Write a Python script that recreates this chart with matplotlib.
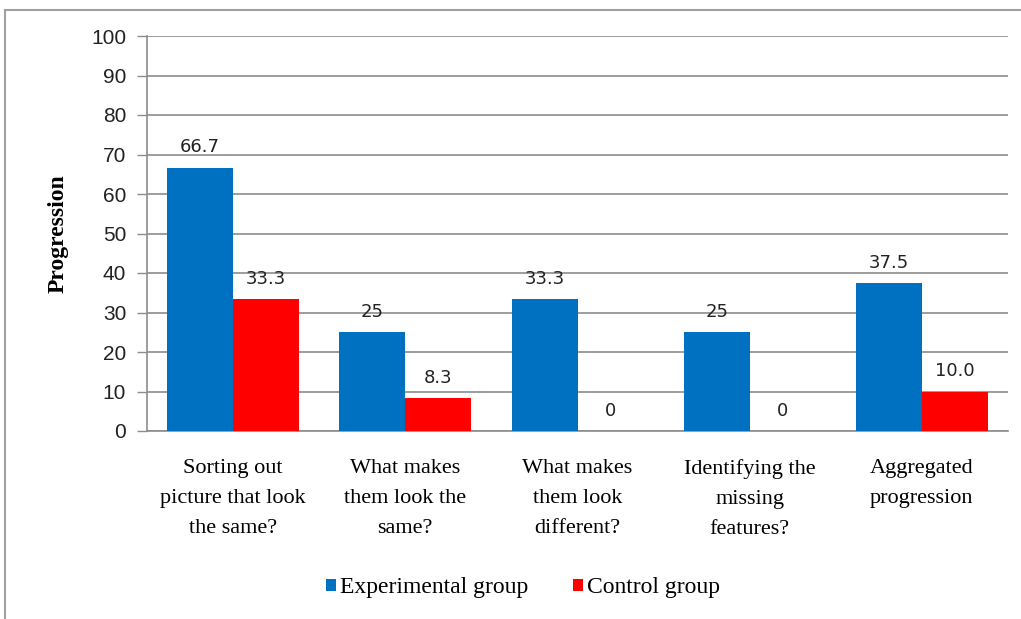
import matplotlib
matplotlib.use("Agg")
import matplotlib.pyplot as plt
import numpy as np
from matplotlib.lines import Line2D

categories = ["Sorting out\npicture that look\nthe same?",
              "What makes\nthem look the\nsame?",
              "What makes\nthem look\ndifferent?",
              "Identifying the\nmissing\nfeatures?",
              "Aggregated\nprogression"]
experimental = [66.7, 25, 33.3, 25, 37.5]
control = [33.3, 8.3, 0, 0, 10.0]
exp_labels = ["66.7", "25", "33.3", "25", "37.5"]
ctl_labels = ["33.3", "8.3", "0", "0", "10.0"]
series_names = ["Experimental group", "Control group"]
yticks = [0, 10, 20, 30, 40, 50, 60, 70, 80, 90, 100]

BLUE = "#0070C0"
RED = "#FF0000"
GRID = "#8C8C8C"

fig = plt.figure(figsize=(10.21, 6.19), dpi=100)
ax = fig.add_axes([147/1021, 1-431/619, (1008-147)/1021, (431-36)/619])

x = np.arange(len(categories))
w = 0.383
b1 = ax.bar(x - w/2, experimental, w, color=BLUE, label=series_names[0], zorder=3)
b2 = ax.bar(x + w/2, control, w, color=RED, label=series_names[1], zorder=3)

numfont = dict(family="DejaVu Sans", fontsize=13, color="#222222")
for rect, lab in zip(b1, exp_labels):
    ax.annotate(lab, (rect.get_x() + rect.get_width()/2, rect.get_height()),
                xytext=(0, 8), textcoords="offset points", ha="center", va="bottom", **numfont)
for rect, lab in zip(b2, ctl_labels):
    ax.annotate(lab, (rect.get_x() + rect.get_width()/2, rect.get_height()),
                xytext=(0, 8), textcoords="offset points", ha="center", va="bottom", **numfont)

ax.set_xlim(-0.5, len(categories) - 0.5)
ax.set_ylim(0, 100)
ax.set_yticks(yticks)
ax.set_yticklabels([str(t) for t in yticks], family="Liberation Sans", fontsize=15, color="#222222")
ax.yaxis.grid(True, color=GRID, linewidth=1.2, zorder=0)
ax.set_axisbelow(True)
ax.tick_params(axis="y", length=7, width=1, color=GRID, pad=8)
ax.tick_params(axis="x", length=0, pad=20)
ax.set_xticks(x)
ax.set_xticklabels(categories, family="Liberation Serif", fontsize=16, linespacing=1.78, va="top")

for s in ["top", "right"]:
    ax.spines[s].set_visible(False)
for s in ["left", "bottom"]:
    ax.spines[s].set_color(GRID)
    ax.spines[s].set_linewidth(1.2)

ax.set_ylabel("Progression", family="Liberation Serif", fontsize=17, fontweight="bold", labelpad=16)

leg = fig.legend(handles=[b1, b2], labels=series_names, loc="center", bbox_to_anchor=(523/1021, 1-588/619),
                 ncol=2, frameon=False, prop=dict(family="Liberation Serif", size=17),
                 handlelength=0.42, handleheight=0.42, handletextpad=0.15, columnspacing=1.9)

# outer frame (left and top edges of the chart area)
fig.add_artist(Line2D([5/1021, 5/1021], [0, 1-10/619], transform=fig.transFigure, color="#A0A0A0", lw=1.5))
fig.add_artist(Line2D([5/1021, 1], [1-10/619, 1-10/619], transform=fig.transFigure, color="#A0A0A0", lw=1.5))

fig.savefig("out.png", dpi=100)
